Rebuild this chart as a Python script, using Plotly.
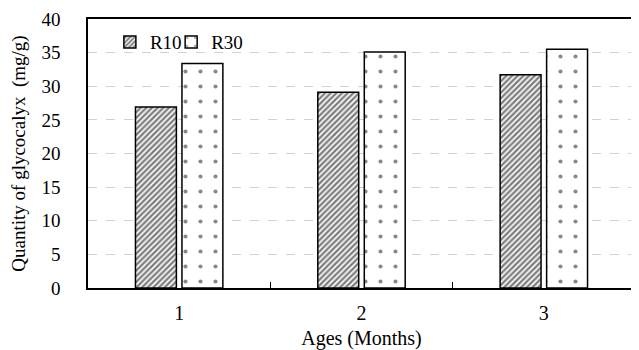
import plotly.graph_objects as go

categories = [1, 2, 3]
cat_labels = ["1", "2", "3"]
r10 = [26.9, 29.1, 31.7]
r30 = [33.4, 35.1, 35.5]
y_ticks = [0, 5, 10, 15, 20, 25, 30, 35, 40]

FONT = "Liberation Serif, Times New Roman, serif"

fig = go.Figure()
fig.add_trace(go.Bar(
    x=categories, y=r10, name="R10", legend="legend",
    marker=dict(color="white", line=dict(color="black", width=1.5),
                pattern=dict(shape="/", fgcolor="black", bgcolor="white", size=4, solidity=0.6)),
))
fig.add_trace(go.Bar(
    x=categories, y=r30, name="R30", legend="legend2",
    marker=dict(color="white", line=dict(color="black", width=1.5),
                pattern=dict(shape=".", fgcolor="#111", bgcolor="white", size=15, solidity=0.06)),
))

leg_common = dict(orientation="h", y=0.985, xanchor="left", yanchor="top",
                  bgcolor="rgba(0,0,0,0)", font=dict(family=FONT, size=19),
                  itemwidth=30)

fig.update_layout(
    width=631, height=342,
    margin=dict(l=80, r=4, t=11, b=62),
    paper_bgcolor="white", plot_bgcolor="white",
    barmode="group", bargap=0.49, bargroupgap=0.12,
    font=dict(family=FONT, size=20, color="black"),
    showlegend=True,
    legend=dict(x=0.04, **leg_common),
    legend2=dict(x=0.152, **leg_common),
    xaxis=dict(
        range=[0.5, 3.5], tickvals=categories, ticktext=cat_labels, ticks="",
        showline=True, linecolor="black", linewidth=1.5, mirror=True,
        showgrid=False, zeroline=False, automargin=False,
        minor=dict(tickvals=[1.5, 2.5], ticks="inside", ticklen=6, tickcolor="black", tickwidth=1, showgrid=False),
        title=dict(text="Ages (Months)", font=dict(size=20), standoff=9),
        tickfont=dict(size=20), ticklabelstandoff=6, ticklabeloverflow="allow",
    ),
    yaxis=dict(
        range=[0, 40], tickvals=y_ticks, ticks="",
        showline=True, linecolor="black", linewidth=1.5, mirror=True,
        showgrid=True, gridcolor="#d0d0d0", griddash="dash", gridwidth=1,
        zeroline=False, automargin=False,
        title=dict(text="Quantity of glycocalyx  (mg/g)", font=dict(size=19), standoff=12),
        tickfont=dict(size=19), ticklabelstandoff=22, ticklabeloverflow="allow",
    ),
)

fig.write_html("out.html")
